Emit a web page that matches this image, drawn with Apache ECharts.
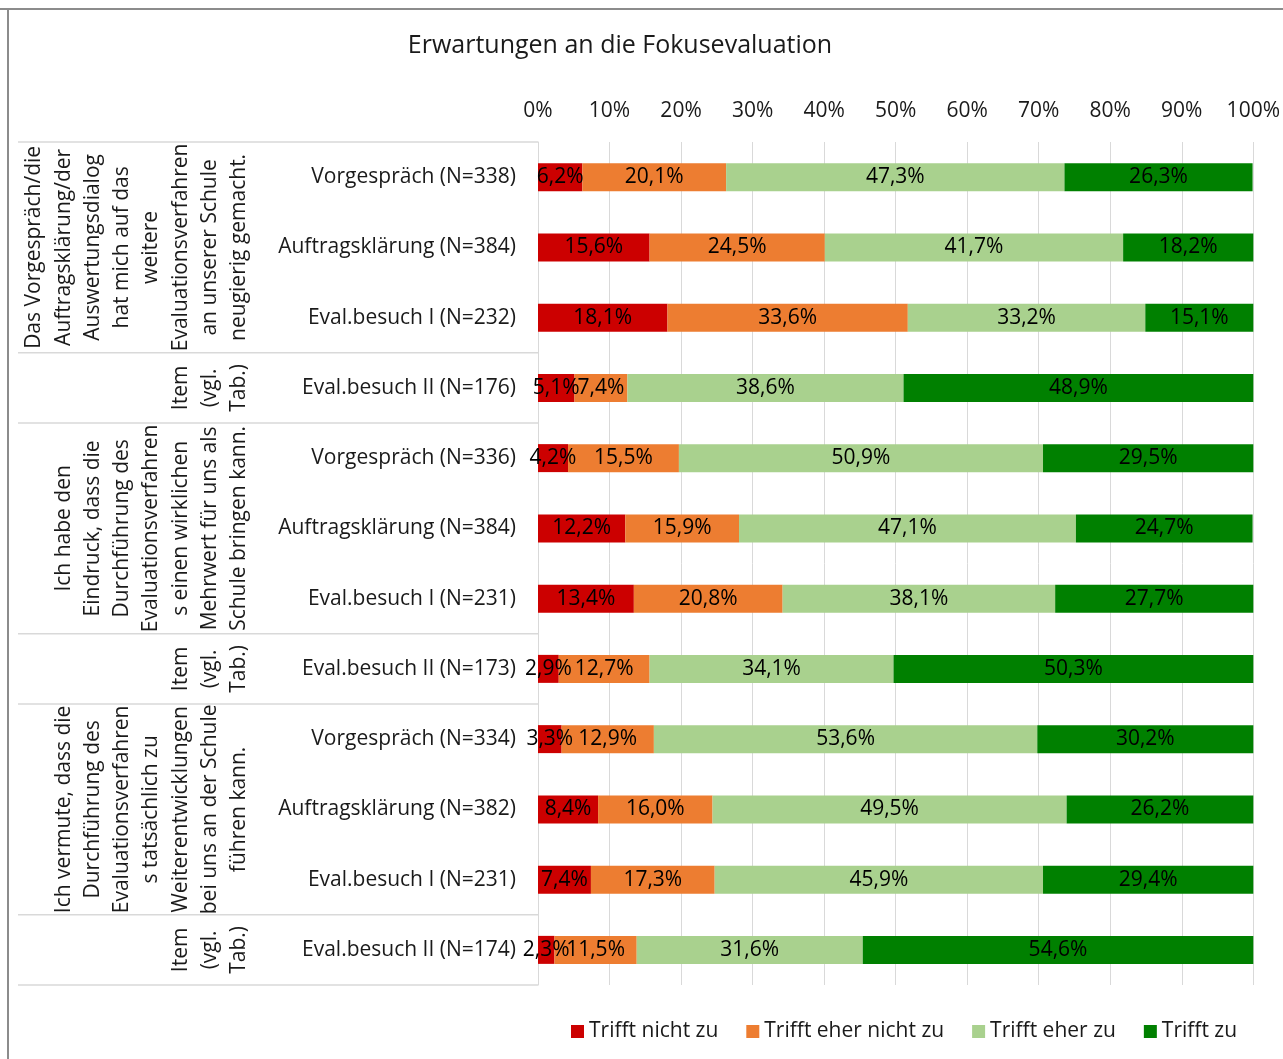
<!DOCTYPE html>
<html>
<head>
<meta charset="utf-8">
<script src="https://cdn.jsdelivr.net/npm/echarts@6/dist/echarts.min.js"></script>
<style>
  html, body { margin: 0; padding: 0; background: #fff; }
  #main { width: 1283px; height: 1059px; }
</style>
</head>
<body>
<div id="main"></div>
<script>
var categories = [
  'Vorgespräch (N=338)', 'Auftragsklärung (N=384)', 'Eval.besuch I (N=232)', 'Eval.besuch II (N=176)',
  'Vorgespräch (N=336)', 'Auftragsklärung (N=384)', 'Eval.besuch I (N=231)', 'Eval.besuch II (N=173)',
  'Vorgespräch (N=334)', 'Auftragsklärung (N=382)', 'Eval.besuch I (N=231)', 'Eval.besuch II (N=174)'
];
var seriesNames = ['Trifft nicht zu', 'Trifft eher nicht zu', 'Trifft eher zu', 'Trifft zu'];
var nichtZu     = [6.2, 15.6, 18.1, 5.1, 4.2, 12.2, 13.4, 2.9, 3.3, 8.4, 7.4, 2.3];
var eherNichtZu = [20.1, 24.5, 33.6, 7.4, 15.5, 15.9, 20.8, 12.7, 12.9, 16.0, 17.3, 11.5];
var eherZu      = [47.3, 41.7, 33.2, 38.6, 50.9, 47.1, 38.1, 34.1, 53.6, 49.5, 45.9, 31.6];
var trifftZu    = [26.3, 18.2, 15.1, 48.9, 29.5, 24.7, 27.7, 50.3, 30.2, 26.2, 29.4, 54.6];
var colors = ['#CC0000', '#ED7D31', '#A9D18E', '#008000'];

// group texts on the left (rows first..last)
var groups = [
  { first: 0, last: 2, text: 'Das Vorgespräch/die\nAuftragsklärung/der\nAuswertungsdialog\nhat mich auf das\nweitere\nEvaluationsverfahren\nan unserer Schule\nneugierig gemacht.' },
  { first: 3, last: 3, text: 'Item\n(vgl.\nTab.)' },
  { first: 4, last: 6, text: 'Ich habe den\nEindruck, dass die\nDurchführung des\nEvaluationsverfahren\ns einen wirklichen\nMehrwert für uns als\nSchule bringen kann.' },
  { first: 7, last: 7, text: 'Item\n(vgl.\nTab.)' },
  { first: 8, last: 10, text: 'Ich vermute, dass die\nDurchführung des\nEvaluationsverfahren\ns tatsächlich zu\nWeiterentwicklungen\nbei uns an der Schule\nführen kann.' },
  { first: 11, last: 11, text: 'Item\n(vgl.\nTab.)' }
];

var FONT = '"Open Sans"';
var FS = 21;
var myChart = echarts.init(document.getElementById('main'));

function pct(v) {
  return v.toFixed(1).replace('.', ',') + '%';
}

var allData = [nichtZu, eherNichtZu, eherZu, trifftZu];
var series = allData.map(function (d, i) {
  return {
    name: seriesNames[i],
    type: 'bar',
    stack: 'total',
    barWidth: 28,
    data: d,
    itemStyle: { color: colors[i] },
    label: {
      show: true,
      position: 'inside',
      color: '#000',
      fontFamily: FONT,
      fontSize: FS,
      formatter: function (p) { return pct(p.value); }
    }
  };
});

myChart.setOption({
  backgroundColor: '#fff',
  animation: false,
  title: {
    text: 'Erwartungen an die Fokusevaluation',
    left: 615,
    top: 28,
    textAlign: 'center',
    textStyle: { fontFamily: FONT, fontSize: 25, fontWeight: 'normal', color: '#1a1a1a' }
  },
  legend: {
    data: seriesNames,
    left: 566,
    top: 1016,
    itemWidth: 13,
    itemHeight: 13,
    itemGap: 28,
    icon: 'rect',
    textStyle: { fontFamily: FONT, fontSize: FS, color: '#1a1a1a' }
  },
  grid: { left: 538, right: 28, top: 142, bottom: 74 },
  xAxis: {
    type: 'value',
    position: 'top',
    min: 0,
    max: 100,
    interval: 10,
    axisLine: { show: false },
    axisTick: { show: false },
    splitLine: { lineStyle: { color: '#D9D9D9' } },
    axisLabel: { formatter: '{value}%', fontFamily: FONT, fontSize: FS, color: '#1a1a1a', margin: 20 }
  },
  yAxis: {
    type: 'category',
    inverse: true,
    data: categories,
    axisLine: { show: true, lineStyle: { color: '#D9D9D9' } },
    axisTick: { show: false },
    axisLabel: { fontFamily: FONT, fontSize: FS, color: '#1a1a1a', margin: 22 }
  },
  series: series
});

// decorative frame, separators and rotated group texts placed from axis scale
var band = 843 / categories.length;
function rowTop(i) { return myChart.convertToPixel({ yAxisIndex: 0 }, i) - band / 2; }
function rowBottom(i) { return myChart.convertToPixel({ yAxisIndex: 0 }, i) + band / 2; }

var graphics = [
  { type: 'line', shape: { x1: 0, y1: 9, x2: 1283, y2: 9 }, style: { stroke: '#8c8c8c', lineWidth: 2 } },
  { type: 'line', shape: { x1: 8, y1: 9, x2: 8, y2: 1059 }, style: { stroke: '#8c8c8c', lineWidth: 2 } }
];
var bounds = [rowTop(0)];
groups.forEach(function (g) {
  bounds.push(rowBottom(g.last));
  var cy = (rowTop(g.first) + rowBottom(g.last)) / 2;
  graphics.push({
    type: 'text',
    x: 254,
    y: cy,
    rotation: Math.PI / 2,
    style: {
      text: g.text,
      fontFamily: FONT,
      fontSize: FS,
      lineHeight: 29.3,
      fill: '#1a1a1a',
      align: 'center',
      verticalAlign: 'bottom'
    }
  });
});
bounds.forEach(function (y) {
  graphics.push({ type: 'line', shape: { x1: 18, y1: y, x2: 538, y2: y }, style: { stroke: '#D9D9D9', lineWidth: 1.5 } });
});
myChart.setOption({ graphic: graphics });
</script>
</body>
</html>
